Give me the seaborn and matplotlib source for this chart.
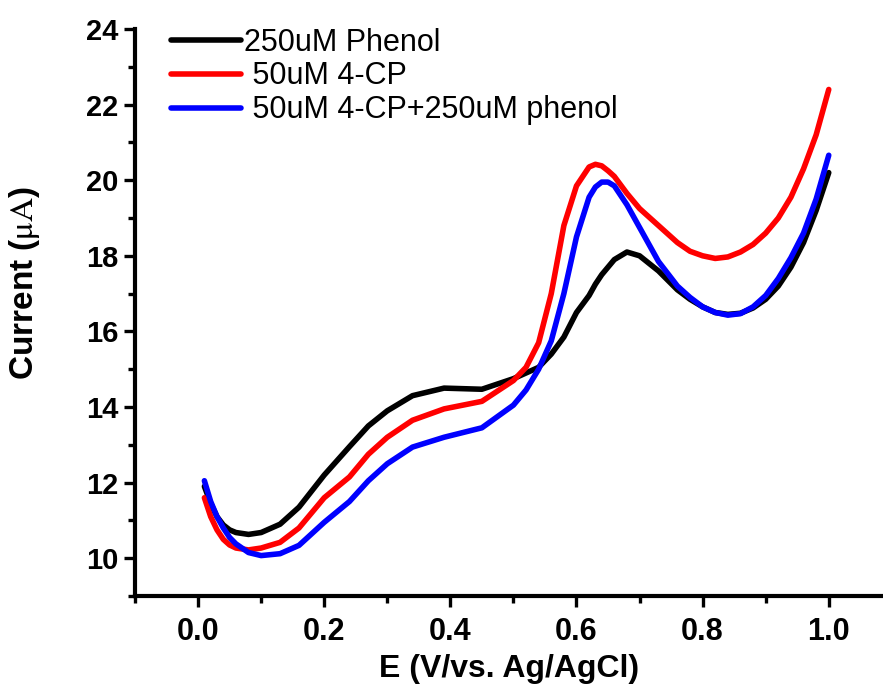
import numpy as np
import pandas as pd
import matplotlib
matplotlib.use("Agg")
import matplotlib.pyplot as plt
import seaborn as sns

# potential (V vs Ag/AgCl) and current (uA)
potential = [0.01, 0.02, 0.03, 0.04, 0.05, 0.06, 0.08, 0.10, 0.13, 0.16,
             0.20, 0.24, 0.27, 0.30, 0.34, 0.39, 0.45, 0.50, 0.52, 0.54,
             0.56, 0.58, 0.60, 0.62, 0.63, 0.64, 0.65, 0.66, 0.68, 0.70,
             0.73, 0.76, 0.78, 0.80, 0.82, 0.84, 0.86, 0.88, 0.90, 0.92,
             0.94, 0.96, 0.98, 1.00]

phenol = [11.9, 11.45, 11.1, 10.88, 10.75, 10.68, 10.63, 10.68, 10.9, 11.35,
          12.2, 12.95, 13.5, 13.9, 14.3, 14.5, 14.47, 14.75, 14.9, 15.05,
          15.4, 15.85, 16.5, 16.95, 17.25, 17.5, 17.7, 17.9, 18.1, 18.0,
          17.6, 17.1, 16.85, 16.65, 16.5, 16.45, 16.48, 16.62, 16.85, 17.2,
          17.7, 18.35, 19.2, 20.2]

cp = [11.6, 11.1, 10.75, 10.5, 10.35, 10.27, 10.22, 10.27, 10.42, 10.8,
      11.6, 12.15, 12.75, 13.2, 13.65, 13.95, 14.15, 14.7, 15.05, 15.7,
      17.0, 18.8, 19.85, 20.35, 20.42, 20.38, 20.25, 20.1, 19.65, 19.25,
      18.8, 18.35, 18.12, 18.0, 17.93, 17.97, 18.1, 18.3, 18.6, 19.0,
      19.55, 20.3, 21.2, 22.4]

cp_phenol = [12.05, 11.5, 11.1, 10.8, 10.55, 10.38, 10.15, 10.07, 10.12, 10.34,
             10.95, 11.5, 12.05, 12.5, 12.94, 13.2, 13.45, 14.05, 14.45, 15.0,
             15.75, 17.0, 18.5, 19.55, 19.82, 19.95, 19.95, 19.85, 19.35, 18.75,
             17.85, 17.2, 16.9, 16.65, 16.5, 16.43, 16.47, 16.65, 16.95, 17.4,
             17.95, 18.6, 19.5, 20.66]

labels = ["250uM Phenol", " 50uM 4-CP", " 50uM 4-CP+250uM phenol"]
colors = ["black", "red", "blue"]

df = pd.DataFrame({
    "E": potential * 3,
    "I": phenol + cp + cp_phenol,
    "sample": [labels[0]] * len(potential) + [labels[1]] * len(potential)
              + [labels[2]] * len(potential),
})

sns.set_style("ticks")
plt.rcParams["font.family"] = ["Liberation Sans", "DejaVu Sans"]
plt.rcParams["mathtext.fontset"] = "stix"
for k in ["text.color", "axes.labelcolor", "xtick.color", "ytick.color", "axes.edgecolor"]:
    plt.rcParams[k] = "black"

fig = plt.figure(figsize=(8.83, 6.95), dpi=100)
ax = fig.add_axes([0.1529, 0.1424, 0.8471, 0.8159])

sns.lineplot(data=df, x="E", y="I", hue="sample", palette=dict(zip(labels, colors)),
             linewidth=4, sort=False, estimator=None, ax=ax)

ax.set_xlim(-0.1, 1.086)
ax.set_ylim(9, 24)
ax.set_xticks([0.0, 0.2, 0.4, 0.6, 0.8, 1.0])
ax.set_xticks(np.arange(-0.1, 1.05, 0.2), minor=True)
ax.set_yticks([10, 12, 14, 16, 18, 20, 22, 24])
ax.set_yticks(np.arange(9, 24, 2), minor=True)

for s in ["top", "right"]:
    ax.spines[s].set_visible(False)
for s in ["left", "bottom"]:
    ax.spines[s].set_linewidth(3)

ax.tick_params(which="major", length=8, width=2.4, direction="out")
ax.tick_params(which="minor", length=5, width=2.4, direction="out")
ax.tick_params(axis="x", which="major", labelsize=22, pad=7)
ax.tick_params(axis="y", which="major", labelsize=21, pad=4)
for t in ax.get_xticklabels() + ax.get_yticklabels():
    t.set_fontweight("bold")

ax.set_xlabel("E (V/vs. Ag/AgCl)", fontsize=23, fontweight="bold", labelpad=5)
ax.set_ylabel(r"Current ($\mathrm{μA}$)", fontsize=24, fontweight="bold")
ax.yaxis.set_label_coords(-0.124, 0.552)

leg = ax.legend(loc="upper left", bbox_to_anchor=(0.18, 0.978), bbox_transform=fig.transFigure,
                frameon=False, fontsize=22, handlelength=2.3, handletextpad=0.1,
                labelspacing=0.13, borderaxespad=0)
for line in leg.get_lines():
    line.set_linewidth(4)

fig.savefig("out.png", dpi=100)
